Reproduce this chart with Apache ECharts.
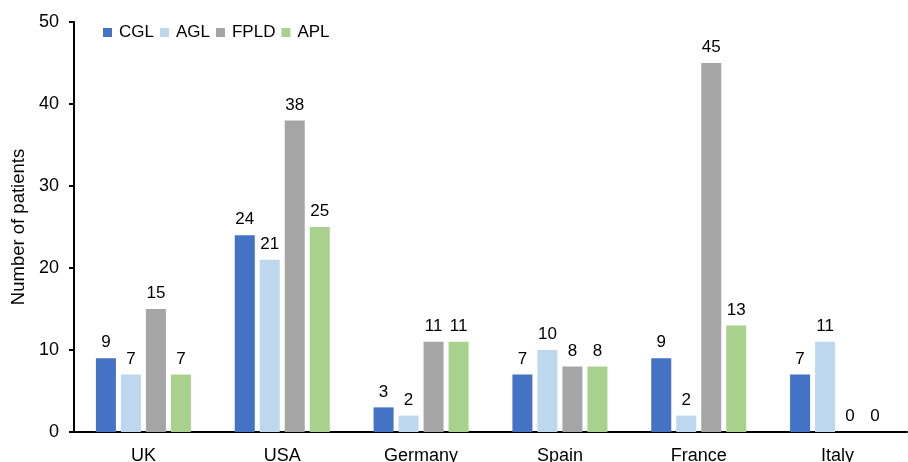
<!DOCTYPE html>
<html><head><meta charset="utf-8">
<script src="https://cdn.jsdelivr.net/npm/echarts@6/dist/echarts.min.js"></script>
<style>html,body{margin:0;padding:0;background:#fff}#c{width:908px;height:462px}</style>
</head><body><div id="c"></div>
<script>
const categories = ['UK','USA','Germany','Spain','France','Italy'];
const CGL = [9,24,3,7,9,7];
const AGL = [7,21,2,10,2,11];
const FPLD = [15,38,11,8,45,0];
const APL = [7,25,11,8,13,0];
const yTicks = [0,10,20,30,40,50];
const font = 'Liberation Sans, Arial, sans-serif';
const colors = ['#4472C4','#BDD7EE','#A5A5A5','#A9D18E'];
const names = ['CGL','AGL','FPLD','APL'];
const data = [CGL,AGL,FPLD,APL];
const chart = echarts.init(document.getElementById('c'));
chart.setOption({
  animation:false,
  grid:{left:74,right:1,top:22,bottom:30,containLabel:false,outerBoundsMode:'none'},
  legend:{left:98,top:19,itemWidth:9,itemHeight:9,itemGap:6,icon:'rect',
    textStyle:{fontFamily:font,fontSize:17,color:'#000',padding:[0,0,0,2]},data:names},
  xAxis:{type:'category',data:categories,
    axisLine:{lineStyle:{color:'#000',width:2}},axisTick:{show:false},
    axisLabel:{fontFamily:font,fontSize:18,color:'#000',margin:15}},
  yAxis:{type:'value',min:yTicks[0],max:yTicks[yTicks.length-1],interval:10,
    name:'Number of patients',nameLocation:'middle',nameGap:46,
    nameTextStyle:{fontFamily:font,fontSize:18.5,color:'#000'},
    axisLine:{show:true,lineStyle:{color:'#000',width:2}},
    axisTick:{show:true,length:5,lineStyle:{color:'#000',width:2}},
    splitLine:{show:false},
    axisLabel:{fontFamily:font,fontSize:18,color:'#000',margin:15}},
  series:names.map((n,i)=>({name:n,type:'bar',data:data[i],barWidth:20,barGap:'25%',
    itemStyle:{color:colors[i]},
    label:{show:true,position:'top',distance:7,fontFamily:font,fontSize:17,color:'#000'}}))
});
</script></body></html>
